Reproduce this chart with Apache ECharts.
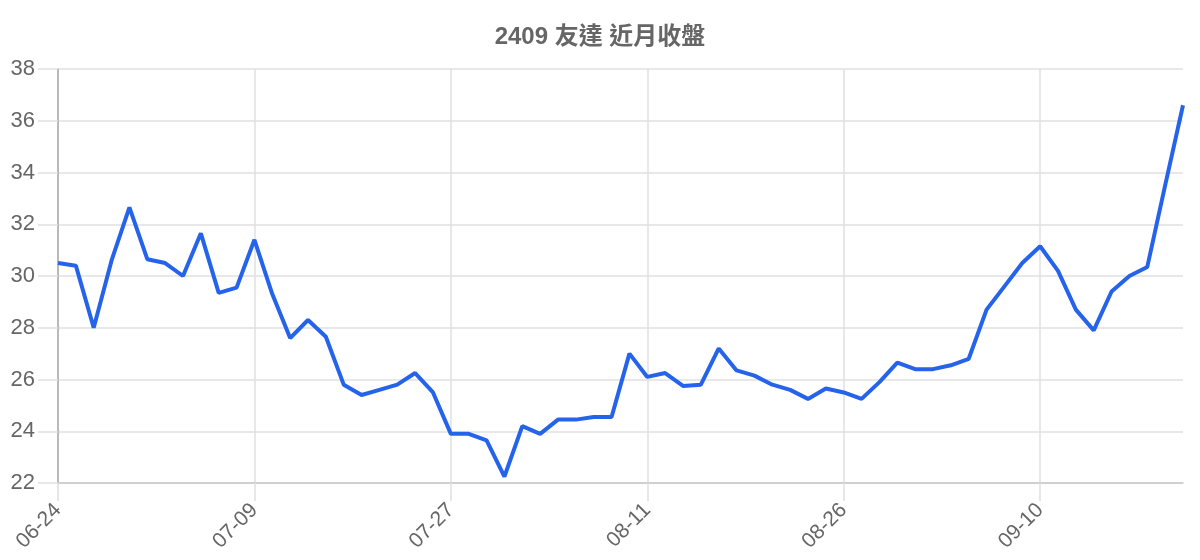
<!DOCTYPE html>
<html>
<head>
<meta charset="utf-8">
<script src="https://cdn.jsdelivr.net/npm/echarts@6/dist/echarts.min.js"></script>
<style>html,body{margin:0;padding:0;background:#fff}#c{width:1200px;height:560px}</style>
</head>
<body>
<div id="c"></div>
<script>
const titleText = '2409 友達 近月收盤';
const dates = [
  '06-24','06-25','06-26','06-27','06-28','07-01','07-02','07-03','07-04','07-05','07-08',
  '07-09','07-10','07-11','07-12','07-15','07-16','07-17','07-18','07-19','07-22','07-23',
  '07-27','07-29','07-30','07-31','08-01','08-02','08-05','08-06','08-07','08-08','08-09',
  '08-11','08-12','08-13','08-14','08-15','08-16','08-19','08-20','08-21','08-22','08-23',
  '08-26','08-27','08-28','08-29','08-30','09-02','09-03','09-04','09-05','09-06','09-09',
  '09-10','09-11','09-12','09-13','09-16','09-18','09-19','09-20','09-23'
];
const closes = [
  30.5, 30.4, 28.0, 30.6, 32.65, 30.65, 30.5, 30.0, 31.65, 29.35, 29.55,
  31.4, 29.3, 27.6, 28.3, 27.65, 25.8, 25.4, 25.6, 25.8, 26.25, 25.5,
  23.9, 23.9, 23.65, 22.25, 24.2, 23.9, 24.45, 24.45, 24.55, 24.55, 27.0,
  26.1, 26.25, 25.75, 25.8, 27.2, 26.35, 26.15, 25.8, 25.6, 25.25, 25.65,
  25.5, 25.25, 25.9, 26.65, 26.4, 26.4, 26.55, 26.8, 28.7, 29.6, 30.5,
  31.15, 30.2, 28.7, 27.9, 29.4, 30.0, 30.35, 33.5, 36.6
];
const yMin = 22, yMax = 38, yStep = 2;
const labelEvery = 10; // show every 11th category

const font = '"Liberation Sans", Arial, "Noto Sans CJK TC", sans-serif';
const chart = echarts.init(document.getElementById('c'), null, {renderer: 'canvas'});
chart.setOption({
  animation: false,
  backgroundColor: '#fff',
  title: {
    text: titleText, left: 'center', top: 20,
    textStyle: {fontFamily: font, fontSize: 24, fontWeight: 'bold', color: '#666'}
  },
  grid: {left: 58, right: 17, top: 69, bottom: 77, containLabel: false},
  xAxis: {
    type: 'category', data: dates, boundaryGap: false,
    axisLine: {show: true, lineStyle: {color: '#c8c8c8', width: 1.5}},
    axisTick: {show: true, interval: labelEvery, length: 18, lineStyle: {color: '#e0e0e0', width: 1.5}},
    axisLabel: {interval: labelEvery, rotate: 45, margin: 24,
      fontSize: 21, color: '#666', fontFamily: font},
    splitLine: {show: true, interval: labelEvery, lineStyle: {color: '#e0e0e0', width: 1.5}}
  },
  yAxis: {
    type: 'value', min: yMin, max: yMax, interval: yStep,
    axisLine: {show: true, lineStyle: {color: '#aaa', width: 1.5}},
    axisTick: {show: true, length: 20, lineStyle: {color: '#e0e0e0', width: 1.5}},
    axisLabel: {margin: 23, fontSize: 22, color: '#666', fontFamily: font},
    splitLine: {show: true, lineStyle: {color: '#e0e0e0', width: 1.5}}
  },
  series: [{
    type: 'line', data: closes, symbol: 'none', smooth: false,
    lineStyle: {color: '#2563eb', width: 4},
    itemStyle: {color: '#2563eb'}
  }]
});
</script>
</body>
</html>
